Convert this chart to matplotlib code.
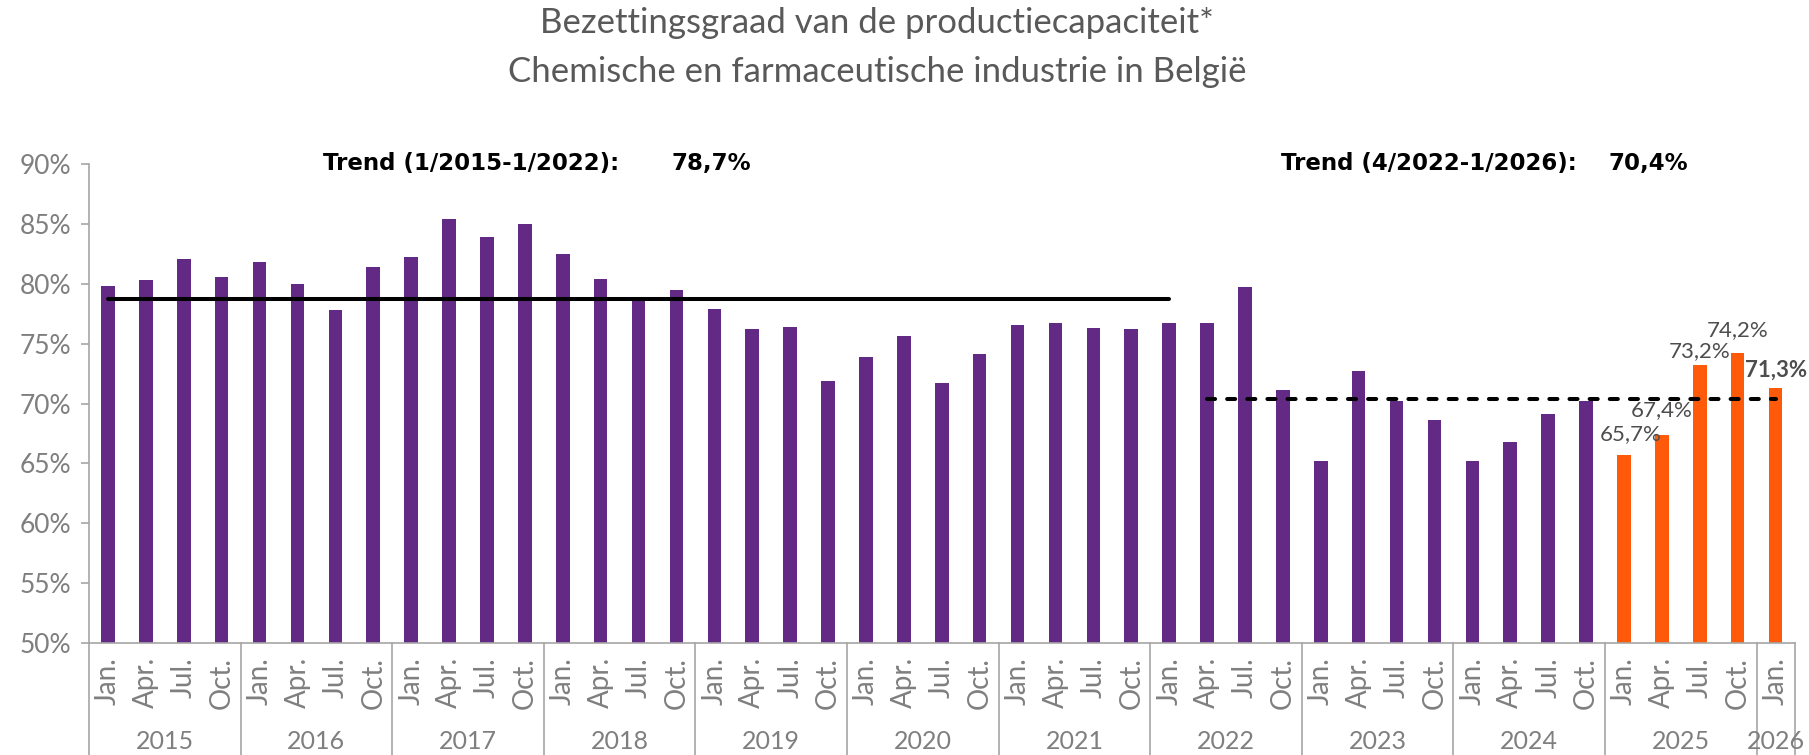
import numpy as np
import matplotlib
matplotlib.use('Agg')
import matplotlib.pyplot as plt
import matplotlib.transforms as mtransforms

plt.rcParams['font.family'] = ['Lato', 'DejaVu Sans']

# data (in %)
years = ['2015', '2016', '2017', '2018', '2019', '2020', '2021', '2022', '2023', '2024', '2025', '2026']
months = ['Jan.', 'Apr.', 'Jul.', 'Oct.']
values_hist = [79.8, 80.3, 82.1, 80.6,
               81.8, 80.0, 77.8, 81.4,
               82.2, 85.4, 83.9, 85.0,
               82.5, 80.4, 78.9, 79.5,
               77.9, 76.2, 76.4, 71.9,
               73.9, 75.6, 71.7, 74.1,
               76.6, 76.7, 76.3, 76.2,
               76.7, 76.7, 79.7, 71.1,
               65.2, 72.7, 70.2, 68.6,
               65.2, 66.8, 69.1, 70.2]
values_recent = [65.7, 67.4, 73.2, 74.2, 71.3]
recent_labels = ['65,7%', '67,4%', '73,2%', '74,2%', '71,3%']
trend1 = 78.7   # 1/2015 - 1/2022
trend2 = 70.4   # 4/2022 - 1/2026

purple = '#622A84'
orange = '#FF5A0A'
grey_txt = '#7F7F7F'
grey_line = '#A6A6A6'

n_hist = len(values_hist)
n_all = n_hist + len(values_recent)
x_hist = np.arange(n_hist)
x_recent = np.arange(n_hist, n_all)
tick_labels = [months[i % 4] for i in range(n_all)]

fig = plt.figure(figsize=(18.09, 7.55), dpi=100)
ax = fig.add_axes([0.0492, 0.1483, 0.9428, 0.6344])

ax.bar(x_hist, values_hist, width=0.36, color=purple, bottom=0)
ax.bar(x_recent, values_recent, width=0.36, color=orange, bottom=0)

# trend lines
ax.plot([0, 28], [trend1, trend1], color='black', lw=2.9, solid_capstyle='round')
ax.plot([29, 44], [trend2, trend2], color='black', lw=2.9,
        linestyle=(0, (2, 3)), dash_capstyle='round')

ax.set_ylim(50, 90)
ax.set_xlim(-0.5, n_all - 0.5)
ax.set_yticks(np.arange(50, 91, 5))
ax.set_yticklabels([f'{v}%' for v in range(50, 91, 5)])
ax.set_xticks(np.arange(n_all))
ax.set_xticklabels(tick_labels, rotation=90, va='top', ha='center')

for s in ['top', 'right']:
    ax.spines[s].set_visible(False)
for s in ['left', 'bottom']:
    ax.spines[s].set_color(grey_line)
    ax.spines[s].set_linewidth(1.2)
ax.tick_params(axis='y', colors=grey_line, labelcolor=grey_txt, labelsize=19,
               length=6, width=1.2, pad=7)
ax.tick_params(axis='x', labelcolor=grey_txt, labelsize=20, length=0, pad=10)

# data labels on the last bars
offsets = [(5, 15), (0, 17.6), (0, 10), (0, 17), (0, 12.7)]
for i, (xv, yv) in enumerate(zip(x_recent, values_recent)):
    last = i == len(values_recent) - 1
    ax.annotate(recent_labels[i], (xv, yv), xytext=offsets[i], textcoords='offset points',
                ha='center', va='center', fontsize=16, color='#4D4D4D',
                fontweight='bold' if last else 'normal')

# year grouping below the axis
trans = mtransforms.blended_transform_factory(ax.transData, ax.transAxes)
bounds = list(np.arange(-0.5, n_all, 4)) + [n_all - 0.5]
for b in bounds:
    ax.plot([b, b], [0, -0.235], transform=trans, color=grey_line, lw=1.2, clip_on=False)
for k, yr in enumerate(years):
    start = k * 4
    end = min(start + 3, n_all - 1)
    ax.text((start + end) / 2, -0.206, yr, transform=trans, ha='center', va='center',
            fontsize=18, color=grey_txt)

# titles and trend texts
fig.text(0.485, 0.9695, 'Bezettingsgraad van de productiecapaciteit*', ha='center', va='center',
         fontsize=25, color='#595959')
fig.text(0.485, 0.9046, 'Chemische en farmaceutische industrie in België', ha='center', va='center',
         fontsize=25, color='#595959')

bold = dict(fontsize=16.5, fontweight='bold', color='black', family='DejaVu Sans', va='center')
fig.text(0.1786, 0.783, 'Trend (1/2015-1/2022):', ha='left', **bold)
fig.text(0.371, 0.783, '78,7%', ha='left', **bold)
fig.text(0.708, 0.783, 'Trend (4/2022-1/2026):', ha='left', **bold)
fig.text(0.889, 0.783, '70,4%', ha='left', **bold)

fig.savefig('out.png', dpi=100)
